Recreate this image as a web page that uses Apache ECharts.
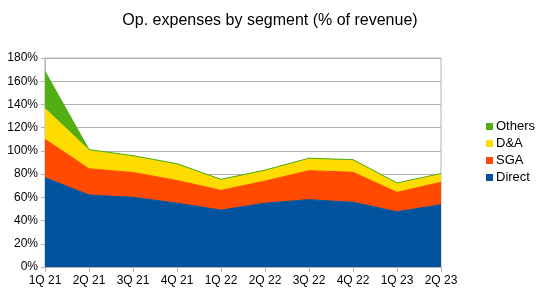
<!DOCTYPE html>
<html lang="en">
<head>
    <meta charset="UTF-8">
    <title>Op. expenses</title>
    <script src="https://cdn.jsdelivr.net/npm/echarts@6/dist/echarts.min.js"></script>
    <style>
        body { margin: 0; background: #fff; }
    </style>
</head>
<body>
<div id="main" style="width: 540px; height: 299px"></div>
<script type="text/javascript">
    var quarters = ['1Q 21', '2Q 21', '3Q 21', '4Q 21', '1Q 22', '2Q 22', '3Q 22', '4Q 22', '1Q 23', '2Q 23'];
    var direct = [77, 62, 60, 55, 49, 55, 58, 55.7, 47.6, 53.7];
    var sga = [33, 22.6, 21.4, 19.5, 17, 19, 25, 25.9, 16.7, 19.3];
    var dna = [26.5, 16, 14, 13.5, 9, 9, 10, 10.2, 7.6, 7];
    var others = [32, 0.5, 0.5, 1, 0.5, 0.5, 0.7, 0.7, 0.5, 0.5];

    var font = 'Liberation Sans';
    var myChart = echarts.init(document.getElementById('main'));

    function area(name, data, color) {
        return {
            name: name,
            type: 'line',
            stack: 'total',
            data: data,
            showSymbol: false,
            symbol: 'none',
            lineStyle: { color: color, width: 1 },
            itemStyle: { color: color },
            areaStyle: { color: color, opacity: 1 }
        };
    }

    var option = {
        animation: false,
        textStyle: { fontFamily: font },
        title: {
            text: 'Op. expenses by segment (% of revenue)',
            left: 'center',
            top: 8,
            textStyle: { fontFamily: font, fontSize: 16, fontWeight: 'normal', color: '#000' }
        },
        legend: {
            orient: 'vertical',
            left: 481,
            top: 115,
            itemWidth: 7,
            itemHeight: 7,
            itemGap: 4,
            icon: 'rect',
            data: ['Others', 'D&A', 'SGA', 'Direct'],
            textStyle: { fontFamily: font, fontSize: 13, lineHeight: 13, color: '#000', padding: [0, 0, 0, -2] }
        },
        grid: {
            left: 45,
            right: 99,
            top: 58,
            bottom: 32,
            show: true,
            borderColor: '#b3b3b3',
            borderWidth: 1
        },
        xAxis: {
            type: 'category',
            data: quarters,
            boundaryGap: false,
            axisLine: { lineStyle: { color: '#b3b3b3' } },
            axisTick: { show: true, length: 5, lineStyle: { color: '#b3b3b3' } },
            axisLabel: { color: '#000', fontSize: 12, fontFamily: font, margin: 8 }
        },
        yAxis: {
            type: 'value',
            min: 0,
            max: 180,
            interval: 20,
            axisLine: { show: true, lineStyle: { color: '#b3b3b3' } },
            axisTick: { show: true, length: 4, lineStyle: { color: '#b3b3b3' } },
            splitLine: { lineStyle: { color: '#b3b3b3' } },
            axisLabel: { color: '#000', fontSize: 12, fontFamily: font, margin: 7, formatter: '{value}%' }
        },
        series: [
            area('Direct', direct, '#00539c'),
            area('SGA', sga, '#ff4a00'),
            area('D&A', dna, '#ffdc00'),
            area('Others', others, '#52ae12')
        ]
    };

    myChart.setOption(option);
</script>
</body>
</html>
